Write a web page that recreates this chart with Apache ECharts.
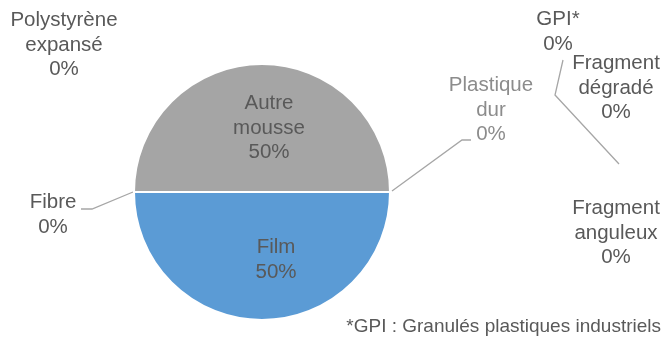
<!DOCTYPE html>
<html><head><meta charset="utf-8">
<script src="https://cdn.jsdelivr.net/npm/echarts@6/dist/echarts.min.js"></script>
<style>html,body{margin:0;padding:0;background:#fff}#c{width:664px;height:338px}</style>
</head><body><div id="c"></div>
<script>
// Data
const categories = ['Fibre', 'Polystyrène expansé', 'Autre mousse', 'Plastique dur', 'GPI*', 'Fragment dégradé', 'Fragment anguleux', 'Film'];
const values = [0, 0, 50, 0, 0, 0, 0, 50];
const footnote = '*GPI : Granulés plastiques industriels';

// Layout / style (not data)
const sliceColors = {'Autre mousse': '#A5A5A5', 'Film': '#5B9BD5'};
const labelPos = {
  'Polystyrène expansé': [64, 45],
  'Fibre': [53, 215],
  'Autre mousse': [269, 128],
  'Plastique dur': [491, 110],
  'GPI*': [558, 32],
  'Fragment dégradé': [616, 88],
  'Fragment anguleux': [616, 233],
  'Film': [276, 260]
};
const guides = {
  'Fibre': [[133, 192], [92, 209], [81, 209]],
  'Plastique dur': [[392, 191], [462, 140], [471, 140]],
  'GPI*': [[619, 164], [555, 95], [563, 60]]
};

const chart = echarts.init(document.getElementById('c'), null, {renderer: 'canvas'});
chart.setOption({
  animation: false,
  graphic: [{
    type: 'text', right: 3, top: 317,
    style: {text: footnote, fill: '#595959', font: '19px "Liberation Sans", Arial, sans-serif'}
  }],
  series: [{
    type: 'pie',
    center: [262, 192],
    radius: 128,
    startAngle: 180,
    clockwise: true,
    avoidLabelOverlap: false,
    itemStyle: {borderColor: '#fff', borderWidth: 2},
    label: {
      show: true,
      formatter: p => (p.name === 'GPI*' ? p.name : p.name.replace(/ /g, '\n')) + '\n' + p.percent + '%',
      color: '#595959',
      fontFamily: '"Liberation Sans", Arial, sans-serif',
      fontSize: 20.5,
      lineHeight: 24.5,
      align: 'center'
    },
    labelLine: {show: true, lineStyle: {color: '#A6A6A6', width: 1.3}, length: 10, length2: 10},
    labelLayout: function (params) {
      const name = categories[params.dataIndex];
      const p = labelPos[name];
      const o = {x: p[0], y: p[1], align: 'center', verticalAlign: 'middle'};
      if (guides[name]) o.labelLinePoints = guides[name];
      return o;
    },
    data: categories.map((c, i) => ({
      name: c,
      value: values[i],
      itemStyle: {color: sliceColors[c] || '#A5A5A5'},
      label: c === 'Plastique dur' ? {color: '#8C8C8C'} : {},
      labelLine: {show: !!guides[c]}
    }))
  }]
});
</script>
</body></html>
